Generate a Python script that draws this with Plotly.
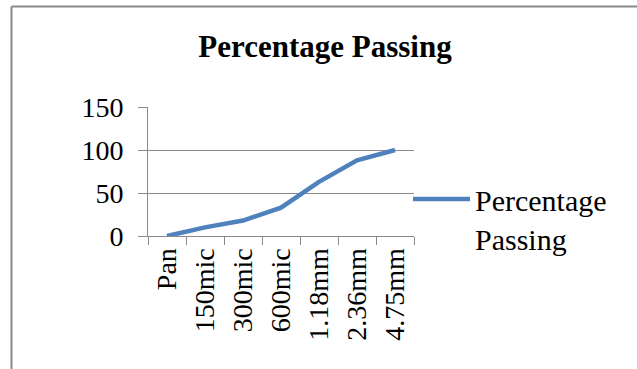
import plotly.graph_objects as go

categories = ["Pan", "150mic", "300mic", "600mic", "1.18mm", "2.36mm", "4.75mm"]
percentage_passing = [0, 10, 18, 33, 63, 88, 100]
y_ticks = [0, 50, 100, 150]
series_name = "Percentage<br>Passing"

W, H = 637, 369
L, R, T, B = 148, 223, 107, 133
pw, ph = W - L - R, H - T - B

def px_x(px):
    return (px - L) / pw

def px_y(py):
    return (H - B - py) / ph

FONT = "Liberation Serif, Times New Roman, serif"
GRID = "#8a8a8a"

fig = go.Figure()
fig.add_trace(go.Scatter(
    x=categories, y=percentage_passing, mode="lines", name=series_name,
    line=dict(color="#4F81BD", width=4.5),
))

fig.update_layout(
    width=W, height=H,
    margin=dict(l=L, r=R, t=T, b=B),
    paper_bgcolor="white", plot_bgcolor="white",
    font=dict(family=FONT, color="black", size=28),
    title=dict(text="<b>Percentage Passing</b>", font=dict(family=FONT, size=31, color="black"),
               x=325 / W, xref="container", xanchor="center",
               y=1 - 46 / H, yref="container", yanchor="middle"),
    showlegend=True,
    legend=dict(x=px_x(408), y=px_y(173), xanchor="left", yanchor="top",
                font=dict(family=FONT, size=30, color="black"),
                bgcolor="rgba(0,0,0,0)", valign="top", itemwidth=57,
                tracegroupgap=0),
    xaxis=dict(type="category", showgrid=False, showline=True, linecolor=GRID, linewidth=1,
               ticks="outside", ticklen=8, tickcolor=GRID, tickson="boundaries",
               tickangle=-90, tickfont=dict(family=FONT, size=28, color="black"),
               range=[-0.5, len(categories) - 0.5], fixedrange=True),
    yaxis=dict(range=[0, 150], tickvals=y_ticks, showgrid=True, gridcolor=GRID, gridwidth=1,
               showline=True, linecolor=GRID, linewidth=1, zeroline=False,
               ticks="outside", ticklen=9, tickcolor=GRID, ticklabelstandoff=9,
               tickfont=dict(family=FONT, size=28, color="black"), fixedrange=True),
    shapes=[
        dict(type="line", xref="paper", yref="paper", x0=px_x(11.5), x1=px_x(700),
             y0=px_y(6.5), y1=px_y(6.5), line=dict(color="#888888", width=2)),
        dict(type="line", xref="paper", yref="paper", x0=px_x(11.5), x1=px_x(11.5),
             y0=px_y(6.5), y1=px_y(420), line=dict(color="#888888", width=2)),
    ],
)

fig.write_html("out.html")
